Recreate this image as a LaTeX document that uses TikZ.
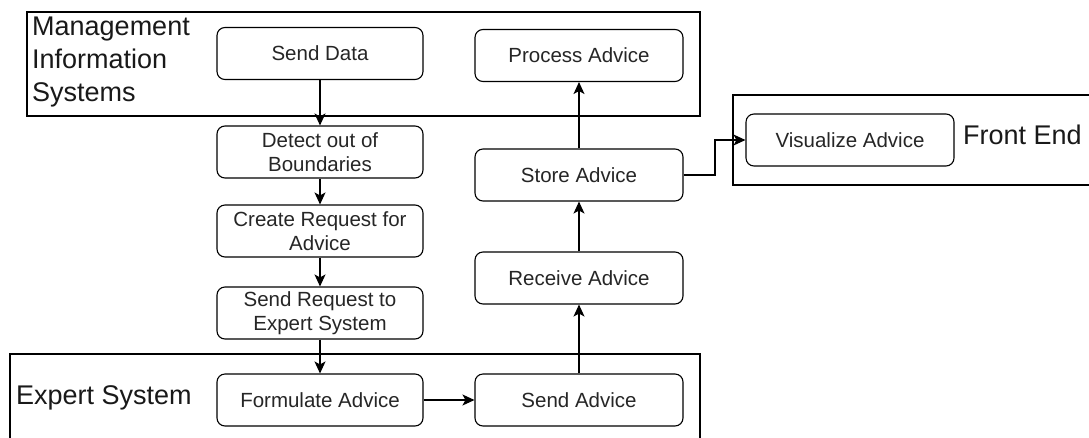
\documentclass[tikz,border=0pt]{standalone}
\usepackage{fontspec}
\setmainfont{Liberation Sans}
\usetikzlibrary{arrows.meta}
\tikzset{
  flowtip/.tip={Stealth[length=12pt,width=11pt,inset=3pt]},
  proc/.style={draw, line width=1.1pt, rounded corners=8pt, minimum height=52pt, inner sep=0pt,
    align=center, font=\fontsize{20.5}{24.5}\selectfont, text=black!85},
  lproc/.style={proc, minimum width=206pt},
  rproc/.style={proc, minimum width=208pt},
  lane/.style={draw, line width=1.1pt},
  title/.style={inner sep=0pt, font=\fontsize{27}{33}\selectfont, text=black!90},
  flow/.style={line width=1.1pt, -flowtip}
}
\begin{document}
\begin{tikzpicture}[x=1pt,y=-1pt]
\useasboundingbox (0,0) rectangle (1089,437);
\fill[white] (0,0) rectangle (1089,437);
% lanes
\draw[lane] (27,12) rectangle (700,116);
\draw[lane] (10,440) -- (10,354) -- (700,354) -- (700,440);
\draw[lane] (1092,95) -- (733,95) -- (733,185) -- (1092,185);
% lane titles
\node[title, anchor=north west, align=left] (tmis) at (32,17) {Management\\Information\\Systems};
\node[title, anchor=base west] (tes) at (16,404) {Expert System};
\node[title, anchor=base west] (tfe) at (963,144) {Front End};
% left column
\node[lproc] (senddata) at (320,53.5) {Send Data};
\node[lproc] (detect) at (320,152) {Detect out of\\Boundaries};
\node[lproc] (create) at (320,231) {Create Request for\\Advice};
\node[lproc] (sendreq) at (320,313) {Send Request to\\Expert System};
\node[lproc] (formulate) at (320,400) {Formulate Advice};
% right column
\node[rproc] (process) at (579,55.5) {Process Advice};
\node[rproc] (store) at (579,175) {Store Advice};
\node[rproc] (receive) at (579,278) {Receive Advice};
\node[rproc] (sendadv) at (579,400) {Send Advice};
\node[rproc] (visual) at (850,140) {Visualize Advice};
% connectors
\draw[flow] (senddata) -- (detect);
\draw[flow] (detect) -- (create);
\draw[flow] (create) -- (sendreq);
\draw[flow] (sendreq) -- (formulate);
\draw[flow] (formulate) -- (sendadv);
\draw[flow] (sendadv) -- (receive);
\draw[flow] (receive) -- (store);
\draw[flow] (store) -- (process);
\coordinate (bend) at (715,175);
\draw[flow] (store.east) -- (bend) |- (visual.west);
\end{tikzpicture}
\end{document}
